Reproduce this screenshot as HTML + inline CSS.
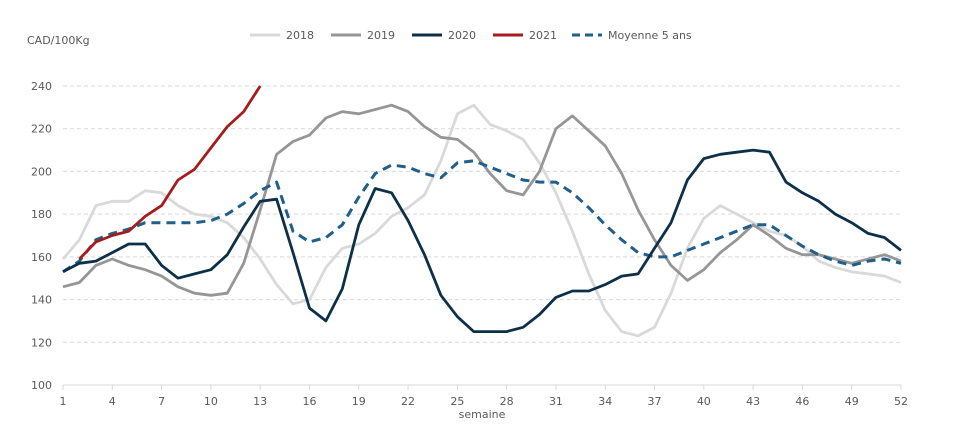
<!DOCTYPE html>
<html><head><meta charset="utf-8"><style>
body{margin:0;background:#fff;font-family:"Liberation Sans","DejaVu Sans",sans-serif;}
svg text{font-family:"DejaVu Sans","Liberation Sans",sans-serif;fill:#595959;}
</style></head><body>
<svg id="chart" width="963" height="422" xmlns="http://www.w3.org/2000/svg">
<text x="27" y="44" font-size="11">CAD/100Kg</text>
<g id="grid"></g><g id="axes"></g><g id="series"></g><g id="legend"></g>
<text x="482" y="418" font-size="11" text-anchor="middle">semaine</text>
</svg>
<script>
const yTicks=[100,120,140,160,180,200,220,240];
const xTicks=[1,4,7,10,13,16,19,22,25,28,31,34,37,40,43,46,49,52];
const s2018=[159,168,184,186,186,191,190,184,180,179,176,169,159,147,138,140,155,164,166,171,179,183,189,205,227,231,222,219,215,204,190,172,152,135,125,123,127,143,164,178,184,180,176,172,170,165,158,155,153,152,151,148];
const s2019=[146,148,156,159,156,154,151,146,143,142,143,157,182,208,214,217,225,228,227,229,231,228,221,216,215,209,199,191,189,200,220,226,219,212,199,182,168,156,149,154,162,168,175,170,164,161,161,159,157,159,161,158];
const s2020=[153,157,158,162,166,166,156,150,152,154,161,174,186,187,162,136,130,145,175,192,190,177,161,142,132,125,125,125,127,133,141,144,144,147,151,152,164,176,196,206,208,209,210,209,195,190,186,180,176,171,169,163];
const s2021=[null,159,167,170,172,179,184,196,201,211,221,228,240];
const sAvg=[153,158,168,171,173,176,176,176,176,177,180,185,191,195,172,167,169,175,188,199,203,202,199,197,204,205,202,199,196,195,195,190,183,175,168,162,160,160,163,166,169,172,175,175,170,165,161,158,156,158,159,157];
const NS="http://www.w3.org/2000/svg";
const X=w=>63+(w-1)*(901-63)/51;
const Y=v=>385-(v-100)*(385-86)/140;
function mk(t,a,p){const e=document.createElementNS(NS,t);for(const k in a)e.setAttribute(k,a[k]);p.appendChild(e);return e;}
const grid=document.getElementById('grid'),axes=document.getElementById('axes'),ser=document.getElementById('series'),leg=document.getElementById('legend');
yTicks.forEach(v=>{
 if(v>100){const l=mk('line',{x1:63,x2:901,y1:Y(v),y2:Y(v),stroke:'#d9d9d9','stroke-dasharray':'4,3'},grid);
 
 }
 const t=mk('text',{x:52,y:Y(v)+4,'font-size':11,'text-anchor':'end'},axes);t.textContent=v;
 
 
});
const ax=mk('line',{x1:63,x2:901,y1:385,y2:385,stroke:'#d9d9d9'},axes);


xTicks.forEach(w=>{
 mk('line',{x1:X(w),x2:X(w),y1:385,y2:390,stroke:'#d9d9d9'},axes);
 const t=mk('text',{x:X(w),y:405,'font-size':11,'text-anchor':'middle'},axes);t.textContent=w;
 
 
});
function line(data,color,dash,name){
 let d='';data.forEach((v,i)=>{if(v==null)return;d+=(d?'L':'M')+X(i+1).toFixed(1)+','+Y(v).toFixed(1);});
 const p=mk('path',{d:d,fill:'none',stroke:color,'stroke-width':dash?3:2.8,'stroke-linejoin':'round'},ser);
 if(dash)p.setAttribute('stroke-dasharray','9,6');
 
 
}
line(s2018,'#d9d9d9',false,'series-2018');
line(s2019,'#969696',false,'series-2019');
line(sAvg,'#1f5f8b',true,'series-moyenne-5-ans');
line(s2020,'#0d3049',false,'series-2020');
line(s2021,'#a51c1c',false,'series-2021');
const L=[['2018','#d9d9d9',false,250],['2019','#969696',false,331],['2020','#0d3049',false,412],['2021','#a51c1c',false,493],['Moyenne 5 ans','#1f5f8b',true,572]];
L.forEach(([n,c,dsh,x])=>{
 const g=mk('g',{},leg);
 
 
 const l=mk('line',{x1:x,x2:x+30,y1:35,y2:35,stroke:c,'stroke-width':3},g);
 if(dsh)l.setAttribute('stroke-dasharray','8,5');
 const t=mk('text',{x:x+36,y:39,'font-size':11},g);t.textContent=n;
});
</script>
</body></html>
